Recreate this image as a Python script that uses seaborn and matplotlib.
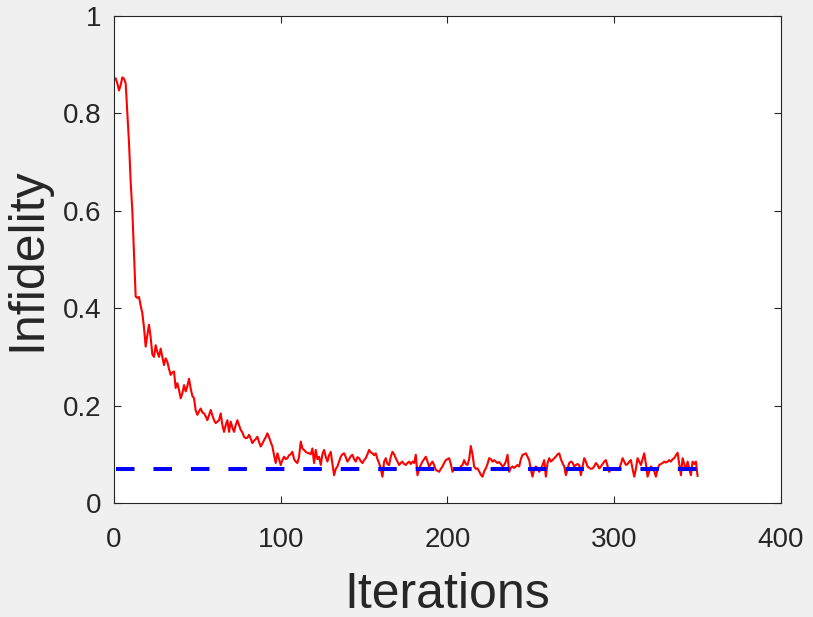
import numpy as np
import pandas as pd
import matplotlib
matplotlib.use("Agg")
import matplotlib.pyplot as plt
import seaborn as sns

# red curve: infidelity per iteration, iterations 1..350
infidelity = [
    0.872, 0.862, 0.847, 0.858, 0.874, 0.871, 0.862, 0.800, 0.740, 0.660,
    0.600, 0.510, 0.424, 0.421, 0.423, 0.405, 0.390, 0.360, 0.321, 0.345,
    0.366, 0.340, 0.305, 0.300, 0.324, 0.310, 0.300, 0.317, 0.300, 0.283,
    0.297, 0.290, 0.275, 0.263, 0.268, 0.270, 0.236, 0.246, 0.232, 0.215,
    0.225, 0.242, 0.229, 0.240, 0.255, 0.235, 0.220, 0.215, 0.190, 0.181,
    0.188, 0.194, 0.186, 0.184, 0.178, 0.170, 0.180, 0.191, 0.180, 0.170,
    0.164, 0.167, 0.170, 0.184, 0.160, 0.146, 0.160, 0.170, 0.146, 0.167,
    0.155, 0.146, 0.160, 0.170, 0.160, 0.150, 0.145, 0.136, 0.133, 0.134,
    0.140, 0.132, 0.123, 0.128, 0.131, 0.136, 0.125, 0.116, 0.122, 0.129,
    0.135, 0.143, 0.135, 0.125, 0.116, 0.098, 0.082, 0.102, 0.090, 0.078,
    0.088, 0.095, 0.090, 0.092, 0.098, 0.100, 0.105, 0.090, 0.085, 0.082,
    0.095, 0.126, 0.112, 0.109, 0.105, 0.103, 0.102, 0.100, 0.112, 0.082,
    0.109, 0.090, 0.095, 0.078, 0.100, 0.109, 0.095, 0.085, 0.098, 0.105,
    0.080, 0.057, 0.070, 0.075, 0.085, 0.095, 0.100, 0.102, 0.094, 0.085,
    0.090, 0.096, 0.099, 0.090, 0.085, 0.094, 0.092, 0.086, 0.082, 0.088,
    0.092, 0.100, 0.109, 0.104, 0.102, 0.098, 0.102, 0.090, 0.082, 0.070,
    0.054, 0.085, 0.092, 0.080, 0.078, 0.095, 0.105, 0.100, 0.092, 0.085,
    0.078, 0.082, 0.085, 0.080, 0.078, 0.082, 0.085, 0.080, 0.085, 0.082,
    0.099, 0.057, 0.070, 0.078, 0.085, 0.090, 0.095, 0.085, 0.075, 0.080,
    0.085, 0.078, 0.068, 0.066, 0.064, 0.070, 0.075, 0.082, 0.088, 0.090,
    0.092, 0.080, 0.064, 0.070, 0.068, 0.072, 0.068, 0.075, 0.078, 0.088,
    0.080, 0.078, 0.090, 0.117, 0.100, 0.075, 0.070, 0.071, 0.065, 0.058,
    0.054, 0.065, 0.071, 0.080, 0.092, 0.090, 0.085, 0.088, 0.085, 0.082,
    0.084, 0.080, 0.075, 0.078, 0.085, 0.099, 0.064, 0.072, 0.075, 0.072,
    0.075, 0.078, 0.075, 0.090, 0.099, 0.100, 0.102, 0.095, 0.088, 0.068,
    0.054, 0.070, 0.075, 0.071, 0.064, 0.070, 0.078, 0.088, 0.054, 0.082,
    0.092, 0.085, 0.088, 0.092, 0.095, 0.100, 0.102, 0.090, 0.082, 0.075,
    0.057, 0.070, 0.082, 0.085, 0.083, 0.075, 0.078, 0.080, 0.078, 0.057,
    0.075, 0.092, 0.085, 0.075, 0.072, 0.070, 0.071, 0.075, 0.082, 0.078,
    0.071, 0.075, 0.080, 0.085, 0.088, 0.076, 0.064, 0.070, 0.072, 0.071,
    0.070, 0.068, 0.070, 0.080, 0.092, 0.085, 0.078, 0.080, 0.085, 0.088,
    0.070, 0.054, 0.070, 0.092, 0.085, 0.078, 0.090, 0.102, 0.080, 0.054,
    0.065, 0.075, 0.070, 0.065, 0.054, 0.070, 0.078, 0.080, 0.082, 0.085,
    0.083, 0.085, 0.088, 0.085, 0.090, 0.092, 0.098, 0.103, 0.080, 0.057,
    0.092, 0.080, 0.068, 0.085, 0.070, 0.057, 0.085, 0.080, 0.085, 0.055,
]
iterations = list(range(1, len(infidelity) + 1))

# blue dashed reference level
target_level = 0.07

xticks = [0, 100, 200, 300, 400]
yticks = [0, 0.2, 0.4, 0.6, 0.8, 1]
ytick_labels = ["0", "0.2", "0.4", "0.6", "0.8", "1"]

sns.set_style("ticks")
plt.rcParams["font.family"] = ["Liberation Sans", "DejaVu Sans"]
plt.rcParams["figure.facecolor"] = "#f0f0f0"
plt.rcParams["axes.facecolor"] = "white"

fig = plt.figure(figsize=(8.13, 6.17), dpi=100)
ax = fig.add_axes([0.1402, 0.1848, 0.8204, 0.7893])

df = pd.DataFrame({"Iterations": iterations, "Infidelity": infidelity})
sns.lineplot(data=df, x="Iterations", y="Infidelity", color="#ff0000",
             linewidth=1.5, ax=ax, zorder=2)

ref = pd.DataFrame({"Iterations": [iterations[0], iterations[-1]],
                    "Infidelity": [target_level, target_level]})
sns.lineplot(data=ref, x="Iterations", y="Infidelity", color="#0000ff",
             linewidth=2.9, ax=ax, zorder=3)
ax.lines[-1].set_dashes((4.6, 4.7))
ax.lines[-1].set_dash_capstyle("butt")

ax.set_xlim(0, 400)
ax.set_ylim(0, 1)
ax.set_xticks(xticks)
ax.set_yticks(yticks)
ax.set_yticklabels(ytick_labels)

for side in ["top", "right", "left", "bottom"]:
    ax.spines[side].set_visible(True)
    ax.spines[side].set_color("#262626")
    ax.spines[side].set_linewidth(0.8)

ax.tick_params(axis="both", direction="in", length=5, width=0.8,
               colors="#262626", labelsize=20, top=True, right=True)
ax.tick_params(axis="x", pad=17)
ax.tick_params(axis="y", pad=9)

ax.set_xlabel("Iterations", fontsize=36, color="#262626", labelpad=14)
ax.set_ylabel("Infidelity", fontsize=36, color="#262626", labelpad=9)

fig.savefig("out.png", dpi=100, facecolor=fig.get_facecolor())
